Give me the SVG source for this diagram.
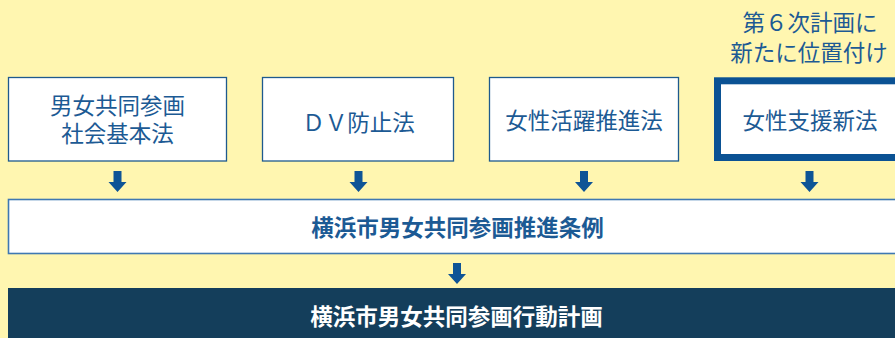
<svg xmlns="http://www.w3.org/2000/svg" width="895" height="338" viewBox="0 0 895 338">
<defs>
<style>
.bg{fill:#fff6b0}
.box{fill:#ffffff;stroke:#1e5a8e;stroke-width:1.3}
.box4{fill:#ffffff;stroke:#0b5294;stroke-width:7}
.mid{fill:#ffffff;stroke:#3f78b2;stroke-width:1.6}
.dark{fill:#143e5b}
.arrow{fill:#0e5496}
text{font-family:"Noto Sans CJK JP","Noto Sans CJK SC",sans-serif;font-size:22.5px;text-anchor:middle}
.t{fill:#1c5a94;font-weight:400}
.lbl{fill:#1c5a94;font-weight:400}
.tb{fill:#1c5a94;font-weight:700}
.tw{fill:#ffffff;font-weight:700}
</style>
<path id="arr" d="M-4,0 H4 V11 H9 L0,21 L-9,11 H-4 Z"/>
</defs>
<rect class="bg" x="0" y="0" width="895" height="338"/>

<g id="label-new">
<text class="lbl" x="810" y="31">第６次計画に</text>
<text class="lbl" x="809" y="60.5">新たに位置付け</text>
</g>

<g id="node-law1">
<rect class="box" x="8.5" y="77.5" width="218" height="83.5"/>
<text class="t" x="117.5" y="113.5">男女共同参画</text>
<text class="t" x="117.5" y="141.5">社会基本法</text>
</g>

<g id="node-law2">
<rect class="box" x="262.5" y="77.5" width="191" height="83.5"/>
<text class="t" x="358.5" y="130.5">ＤＶ防止法</text>
</g>

<g id="node-law3">
<rect class="box" x="489.5" y="77.5" width="189" height="83.5"/>
<text class="t" x="584" y="129">女性活躍推進法</text>
</g>

<g id="node-law4">
<rect class="box4" x="717.5" y="80.8" width="190" height="76.7"/>
<text class="t" x="810" y="129">女性支援新法</text>
</g>

<g id="node-ordinance">
<rect class="mid" x="8.5" y="199.5" width="900" height="54"/>
<text class="tb" x="457.5" y="236">横浜市男女共同参画推進条例</text>
</g>

<g id="node-plan">
<rect class="dark" x="8" y="288" width="900" height="60"/>
<text class="tw" x="456.5" y="324.5">横浜市男女共同参画行動計画</text>
</g>

<g id="connectors">
<use href="#arr" class="arrow" x="117.5" y="171"/>
<use href="#arr" class="arrow" x="358.5" y="171"/>
<use href="#arr" class="arrow" x="584" y="171"/>
<use href="#arr" class="arrow" x="809.5" y="171"/>
<use href="#arr" class="arrow" x="457" y="263"/>
</g>
</svg>
